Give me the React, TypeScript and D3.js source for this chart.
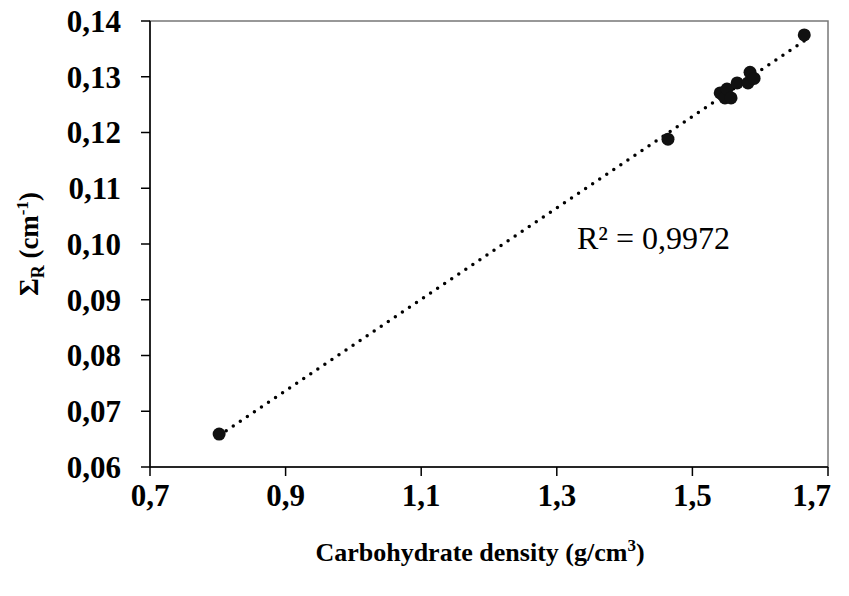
import React from "react";
import * as d3 from "d3";

const densityX = [0.802, 1.464, 1.541, 1.548, 1.551, 1.557, 1.566, 1.582, 1.585, 1.591, 1.665];
const sigmaR = [0.0659, 0.1188, 0.1271, 0.1262, 0.1278, 0.1262, 0.1289, 0.1289, 0.1308, 0.1297, 0.1375];
const xTicks = [0.7, 0.9, 1.1, 1.3, 1.5, 1.7];
const yTicks = [0.06, 0.07, 0.08, 0.09, 0.1, 0.11, 0.12, 0.13, 0.14];
const r2Label = "R² = 0,9972";

const W = 849, H = 596;
const M = { left: 150, right: 828, top: 21, bottom: 467 };
const FONT = "Liberation Serif, Times New Roman, Tinos, DejaVu Serif, serif";

export default function App() {
  const x = d3.scaleLinear().domain([0.7, 1.7]).range([M.left, M.right]);
  const y = d3.scaleLinear().domain([0.06, 0.14]).range([M.bottom, M.top]);

  const n = densityX.length;
  const mx = d3.mean(densityX)!;
  const my = d3.mean(sigmaR)!;
  let sxy = 0, sxx = 0;
  for (let i = 0; i < n; i++) {
    sxy += (densityX[i] - mx) * (sigmaR[i] - my);
    sxx += (densityX[i] - mx) ** 2;
  }
  const slope = sxy / sxx;
  const icpt = my - slope * mx;
  const [x0, x1] = d3.extent(densityX) as [number, number];
  const trend = d3.line<number>().x((d) => x(d)).y((d) => y(icpt + slope * d))([x0, x1]);

  const fmt = (v: number, d: number) => v.toFixed(d).replace(".", ",");

  return (
    <svg width={W} height={H} style={{ position: "absolute", left: 0, top: 0, background: "#fff", fontFamily: FONT }}>
      <rect x={M.left} y={M.top} width={M.right - M.left} height={M.bottom - M.top} fill="none" stroke="#777" strokeWidth={1.5} />
      <line x1={M.left} x2={M.left} y1={M.top} y2={M.bottom} stroke="#000" strokeWidth={1.5} />
      <line x1={M.left} x2={M.right} y1={M.bottom} y2={M.bottom} stroke="#000" strokeWidth={1.5} />
      {yTicks.map((t) => (
        <g key={"y" + t}>
          <line x1={M.left - 9} x2={M.left} y1={y(t)} y2={y(t)} stroke="#000" strokeWidth={1.5} />
          <text x={121} y={y(t)} dy="0.35em" textAnchor="end" fontWeight="bold" fontSize={31}>
            {fmt(t, 2)}
          </text>
        </g>
      ))}
      {xTicks.map((t, i) => {
        const last = i === xTicks.length - 1;
        return (
          <g key={"x" + t}>
            <line x1={x(t)} x2={x(t)} y1={M.bottom} y2={M.bottom + 9} stroke="#000" strokeWidth={1.5} />
            <text x={last ? 831 : x(t)} y={506} textAnchor={last ? "end" : "middle"} fontWeight="bold" fontSize={31}>
              {fmt(t, 1)}
            </text>
          </g>
        );
      })}
      <path d={trend!} fill="none" stroke="#000" strokeWidth={3.5} strokeDasharray="0 8.5" strokeLinecap="round" />
      {densityX.map((d, i) => (
        <circle key={i} cx={x(d)} cy={y(sigmaR[i])} r={6.5} fill="#111" />
      ))}
      <text x={577} y={249} fontSize={32}>{r2Label}</text>
      <text x={480} y={561} textAnchor="middle" fontWeight="bold" fontSize={26}>
        Carbohydrate density (g/cm<tspan dy="-10" fontSize={17}>3</tspan><tspan dy="10">)</tspan>
      </text>
      <text transform={`translate(38,${(M.top + M.bottom) / 2}) rotate(-90)`} textAnchor="middle" fontWeight="bold" fontSize={27}>
        Σ<tspan dy="6" fontSize={18}>R</tspan>
        <tspan dy="-6"> (cm</tspan>
        <tspan dy="-10" fontSize={17}>-1</tspan>
        <tspan dy="10">)</tspan>
      </text>
    </svg>
  );
}
